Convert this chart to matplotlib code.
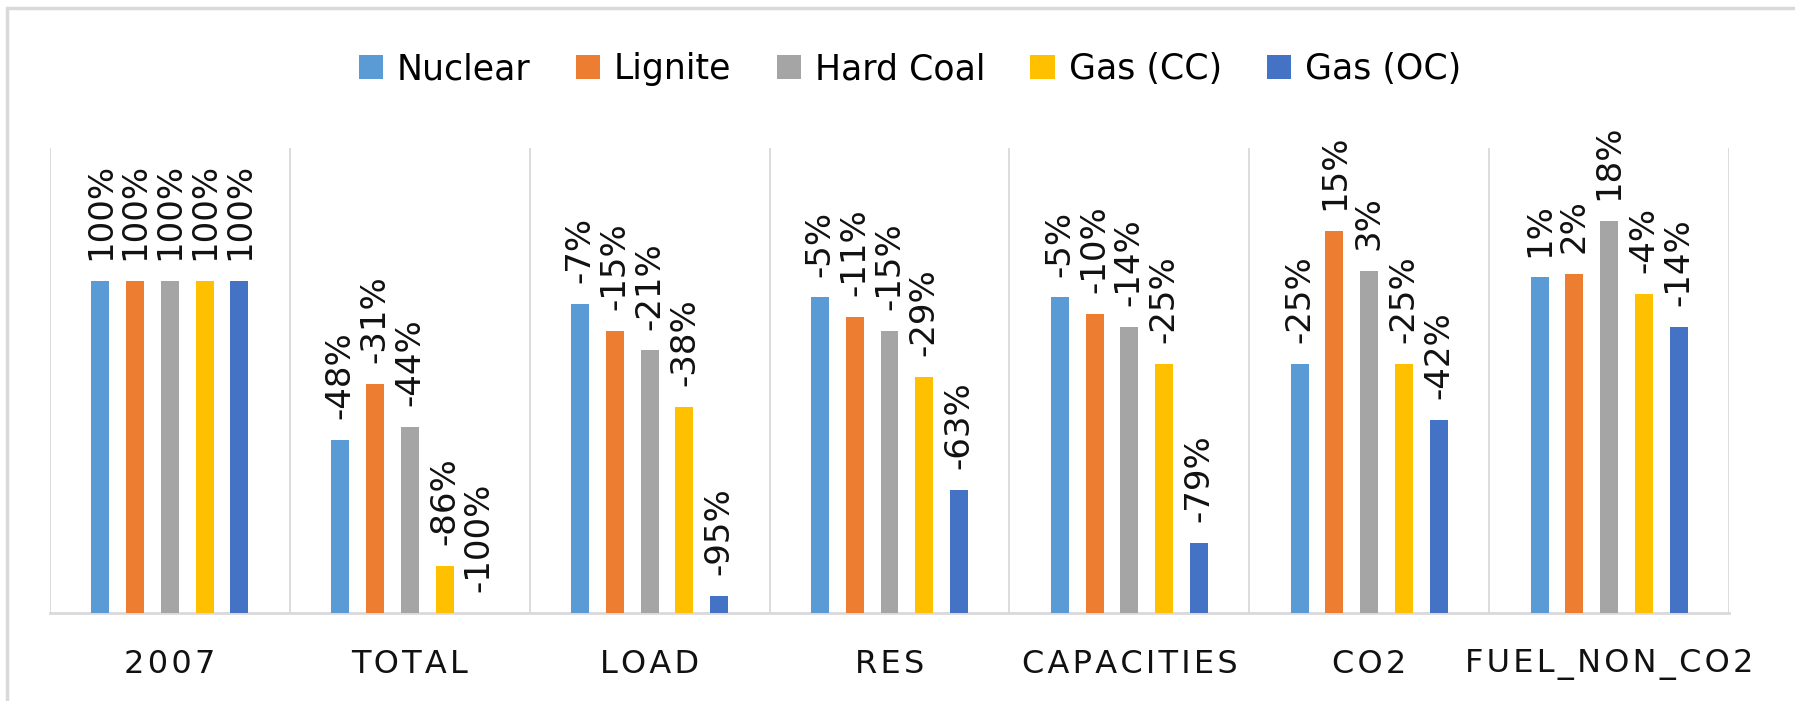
import matplotlib
matplotlib.use("Agg")
import matplotlib.pyplot as plt
import numpy as np
from matplotlib.patches import Rectangle

# categories and series (labels are change vs 2007, bars are 100 + change)
categories = ["2007", "TOTAL", "LOAD", "RES", "CAPACITIES", "CO2", "FUEL_NON_CO2"]
series = ["Nuclear", "Lignite", "Hard Coal", "Gas (CC)", "Gas (OC)"]
colors = ["#5B9BD5", "#ED7D31", "#A5A5A5", "#FFC000", "#4472C4"]

nuclear = [0, -48, -7, -5, -5, -25, 1]
lignite = [0, -31, -15, -11, -10, 15, 2]
hard_coal = [0, -44, -21, -15, -14, 3, 18]
gas_cc = [0, -86, -38, -29, -25, -25, -4]
gas_oc = [0, -100, -95, -63, -79, -42, -14]

changes = [nuclear, lignite, hard_coal, gas_cc, gas_oc]

fig = plt.figure(figsize=(17.95, 7.01), dpi=100)
ax = fig.add_axes([50/1795, 1 - 612.7/701, (1729 - 50)/1795, (612.7 - 148)/701])

x = np.arange(len(categories))
step = 0.145
width = 0.075
for i, (name, col, ch) in enumerate(zip(series, colors, changes)):
    vals = np.array(ch) + 100
    pos = x + (i - 2) * step
    ax.bar(pos, vals, width=width, color=col, label=name, zorder=3)
    for j, (p, v, c) in enumerate(zip(pos, vals, ch)):
        lab = "100%" if j == 0 else f"{c}%"
        ax.annotate(lab, (p, v), xytext=(0, 15), textcoords="offset points",
                    rotation=90, ha="center", va="bottom", fontsize=24.5,
                    color="#111111")

ax.set_xlim(-0.5, len(categories) - 0.5)
ax.set_ylim(0, 140)
ax.set_yticks([])
for b in np.arange(len(categories) + 1) - 0.5:
    ax.axvline(b, color="#d9d9d9", lw=1.3, zorder=1)
for s in ["top", "left", "right"]:
    ax.spines[s].set_visible(False)
ax.spines["bottom"].set_color("#d9d9d9")
ax.spines["bottom"].set_linewidth(2)

ax.set_xticks(x)
ax.set_xticklabels(["\u200a".join(c) for c in categories], fontsize=23, color="#111111")
ax.tick_params(axis="x", length=0, pad=26)

fig.legend(loc="center", bbox_to_anchor=(0.507, 1 - 69/701), ncol=5, frameon=False,
           fontsize=25, handlelength=0.7, handleheight=0.7, handletextpad=0.4,
           columnspacing=1.3)

fig.patches.append(Rectangle((7/1795, -0.05), 1.1, 1.05 - 8/701, transform=fig.transFigure,
                             fill=False, edgecolor="#d9d9d9", lw=2.5))

fig.savefig("out.png", dpi=100)
